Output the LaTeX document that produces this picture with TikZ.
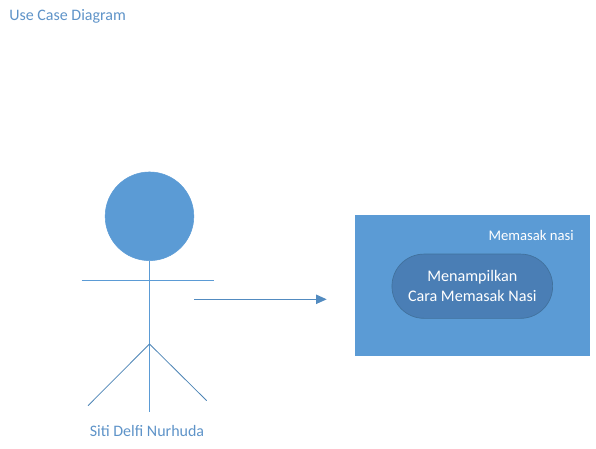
\documentclass[tikz,border=0pt]{standalone}
\usepackage{fontspec}
\setmainfont{Carlito}
\usetikzlibrary{arrows.meta}
\definecolor{officeblue}{HTML}{5B9BD5}
\definecolor{pillblue}{HTML}{4A7EB5}
\definecolor{pillline}{HTML}{41719C}
\definecolor{labelblue}{HTML}{5E93C8}
\tikzset{
    stick/.style={draw=officeblue, line width=0.75pt},
    darkstick/.style={draw=officeblue!85!black, line width=0.6pt},
    label/.style={text=labelblue, font=\fontsize{12pt}{14pt}\selectfont},
    whitelabel/.style={text=white, font=\fontsize{12.1pt}{14.75pt}\selectfont, align=center}
}
\begin{document}
\begin{tikzpicture}[x=0.75pt, y=-0.75pt]
    \useasboundingbox (0,0) rectangle (596,449);
    \node[label, anchor=west, inner sep=0pt] at (9,16) (title) {Use Case Diagram};
    \node[shape=circle, fill=officeblue, draw=officeblue, inner sep=0pt, minimum size=66.5pt] at (149.5,216.3) (head) {};
    \coordinate (armL) at (81.7,280.3);
    \coordinate (armR) at (214,280.3);
    \coordinate (hip) at (149.5,344);
    \coordinate (foot) at (149.5,412);
    \coordinate (legL) at (88,405.7);
    \coordinate (legR) at (206.7,400.7);
    \draw[stick] (armL) -- (armR);
    \draw[stick] (head) -- (foot);
    \draw[darkstick] (hip) -- (legL);
    \draw[darkstick] (hip) -- (legR);
    \node[label, inner sep=0pt] at (147,431) (actor) {Siti Delfi Nurhuda};
    \node[shape=rectangle, fill=officeblue, inner sep=0pt, minimum width=176.5pt, minimum height=105.8pt] at (472.3,285.2) (system) {};
    \node[whitelabel, font=\fontsize{11pt}{14pt}\selectfont, anchor=east, inner sep=0pt] at (574,235) (systemname) {Memasak nasi};
    \node[shape=rectangle, rounded corners=24pt, fill=pillblue, draw=pillline, line width=0.5pt, whitelabel, inner sep=0pt, minimum width=120.5pt, minimum height=48.2pt] at (472.3,286.2) (usecase) {Menampilkan\\Cara Memasak Nasi};
    \coordinate (arrowS) at (194.3,299.3);
    \coordinate (arrowE) at (326.7,299.3);
    \draw[stick, -{Triangle[length=8pt, width=7pt]}, draw=officeblue!90!black, fill=officeblue!90!black] (arrowS) -- (arrowE);
\end{tikzpicture}
\end{document}
